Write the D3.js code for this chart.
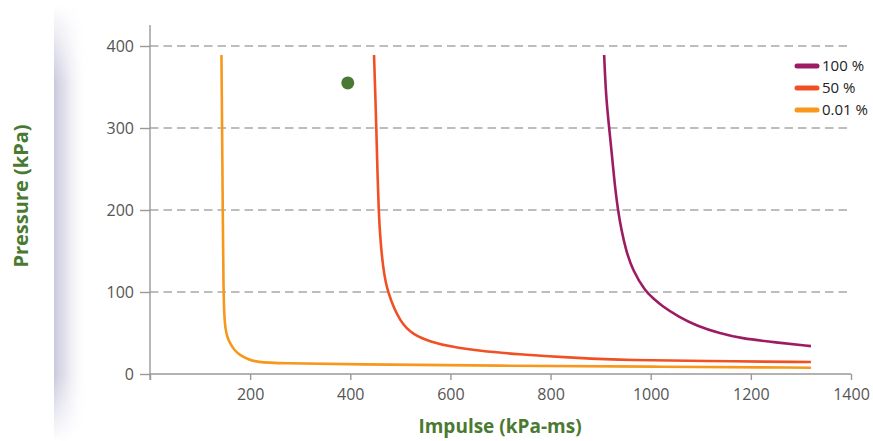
<!DOCTYPE html>
<html>
<head>
<meta charset="utf-8">
<script src="https://cdn.jsdelivr.net/npm/d3@7"></script>
<style>
  body { margin: 0; background: #fff; }
  svg { display: block; font-family: "Open Sans", "Noto Sans", sans-serif; }
</style>
</head>
<body>
<svg id="chart"></svg>
<script>
const width = 873;
const height = 441;

// curves: [impulse, pressure]
const curve100 = [[907, 389], [910.5, 340], [917, 300], [921.5, 273], [925.4, 249], [929.4, 224.4], [934.6, 200],
    [941.4, 175.6], [950.6, 151], [963.4, 127], [990, 100], [1005, 92.5], [1020, 84], [1056.6, 69.5], [1093, 58.5],
    [1136, 50], [1180, 43.5], [1250, 38.5], [1320, 34]];
const curve50 = [[447.4, 389], [450, 340], [452, 300], [454.7, 236.6], [456.7, 200.8], [460, 163.4], [465.3, 131],
    [473.3, 100.4], [500, 62], [526.7, 47.6], [560, 39.4], [600, 33.3], [660, 28], [727, 24.4],
    [860, 19.1], [960, 17], [1100, 15.8], [1320, 14.6]];
const curve001 = [[142.7, 389], [144, 300], [145.3, 200], [146.7, 100], [148.5, 70], [150.7, 54], [155, 44],
    [160, 37], [170, 28], [180, 23], [195, 18], [213, 14.5], [260, 13], [400, 11.8], [700, 10.1], [1000, 9], [1320, 7.7]];

const seriesNames = ['100 %', '50 %', '0.01 %'];
const seriesColors = ['#9c1c63', '#f15025', '#f7981d'];
const seriesData = [curve100, curve50, curve001];

const marker = [[395, 355]];

const xTicks = [200, 400, 600, 800, 1000, 1200, 1400];
const yTicks = [0, 100, 200, 300, 400];

const svg = d3.select('#chart')
    .attr('width', width)
    .attr('height', height);

// soft shadow strip on the left
const defs = svg.append('defs');
const grad = defs.append('linearGradient').attr('id', 'shade');
grad.append('stop').attr('offset', '0%').attr('stop-color', '#c9c9dd').attr('stop-opacity', 1);
grad.append('stop').attr('offset', '35%').attr('stop-color', '#dcdcea').attr('stop-opacity', 0.8);
grad.append('stop').attr('offset', '100%').attr('stop-color', '#ffffff').attr('stop-opacity', 0);
const vgrad = defs.append('linearGradient').attr('id', 'vfade')
    .attr('x1', 0).attr('x2', 0).attr('y1', 0).attr('y2', 1);
vgrad.append('stop').attr('offset', '0%').attr('stop-color', '#fff').attr('stop-opacity', 0);
vgrad.append('stop').attr('offset', '18%').attr('stop-color', '#fff').attr('stop-opacity', 1);
vgrad.append('stop').attr('offset', '85%').attr('stop-color', '#fff').attr('stop-opacity', 1);
vgrad.append('stop').attr('offset', '100%').attr('stop-color', '#fff').attr('stop-opacity', 0);
defs.append('mask').attr('id', 'shadeMask')
    .append('rect').attr('x', 50).attr('y', 5).attr('width', 50).attr('height', 436)
    .attr('fill', 'url(#vfade)');
svg.append('rect')
    .attr('x', 54).attr('y', 5).attr('width', 34).attr('height', 436)
    .attr('fill', 'url(#shade)')
    .attr('mask', 'url(#shadeMask)');

const x = d3.scaleLinear().domain([0, 1400]).range([150, 851]);
const y = d3.scaleLinear().domain([0, 400]).range([374, 46]);

// dashed grid
svg.append('g')
    .selectAll('line')
    .data(yTicks.filter(d => d > 0))
    .enter()
    .append('line')
    .attr('x1', 150)
    .attr('x2', 851)
    .attr('y1', d => y(d))
    .attr('y2', d => y(d))
    .attr('stroke', '#a8a8a8')
    .attr('stroke-width', 1.4)
    .attr('stroke-dasharray', '8.5,5');

// y axis
const yAxis = svg.append('g')
    .attr('transform', 'translate(150,0)')
    .call(d3.axisLeft(y).tickValues(yTicks).tickSize(10).tickPadding(6));
yAxis.select('.domain').remove();
svg.append('line')
    .attr('x1', 150).attr('x2', 150).attr('y1', 25).attr('y2', 380)
    .attr('stroke', '#999').attr('stroke-width', 1.4);

// x axis
const xAxis = svg.append('g')
    .attr('transform', 'translate(0,374)')
    .call(d3.axisBottom(x).tickValues([0].concat(xTicks)).tickSize(6).tickPadding(9)
        .tickFormat(d => d === 0 ? '' : d));
xAxis.select('.domain').attr('d', 'M150,0H851');

svg.selectAll('.tick line').attr('stroke', '#999').attr('stroke-width', 1.4);
svg.selectAll('.domain').attr('stroke', '#999').attr('stroke-width', 1.4);
svg.selectAll('.tick text')
    .attr('fill', '#555')
    .style('font-size', '16px')
    .style('font-family', '"Open Sans", "Noto Sans", sans-serif');

// curves (basis smooths out reading noise)
const line = d3.line()
    .x(d => x(d[0]))
    .y(d => y(d[1]))
    .curve(d3.curveBasis);

svg.append('g')
    .selectAll('path')
    .data(seriesData)
    .enter()
    .append('path')
    .attr('d', d => line(d))
    .attr('fill', 'none')
    .attr('stroke', (d, i) => seriesColors[i])
    .attr('stroke-width', 2.6);

// marker point
svg.selectAll('circle.pt')
    .data(marker)
    .enter()
    .append('circle')
    .attr('class', 'pt')
    .attr('cx', d => x(d[0]))
    .attr('cy', d => y(d[1]))
    .attr('r', 6.5)
    .attr('fill', '#4a7a32');

// legend
const legend = svg.append('g')
    .selectAll('g')
    .data(seriesNames)
    .enter()
    .append('g')
    .attr('transform', (d, i) => `translate(797,${66 + i * 22})`);
legend.append('line')
    .attr('x1', 0).attr('x2', 20)
    .attr('stroke', (d, i) => seriesColors[i])
    .attr('stroke-width', 5)
    .attr('stroke-linecap', 'round');
legend.append('text')
    .attr('x', 25)
    .attr('dy', '0.35em')
    .attr('fill', '#222')
    .style('font-size', '15px')
    .text(d => d);

// axis titles
svg.append('text')
    .attr('x', 500)
    .attr('y', 433)
    .attr('text-anchor', 'middle')
    .attr('fill', '#4a7a32')
    .style('font-size', '19px')
    .style('font-weight', 'bold')
    .text('Impulse (kPa-ms)');

svg.append('text')
    .attr('transform', 'translate(28,196) rotate(-90)')
    .attr('text-anchor', 'middle')
    .attr('fill', '#4a7a32')
    .style('font-size', '20px')
    .style('font-weight', 'bold')
    .text('Pressure (kPa)');
</script>
</body>
</html>
